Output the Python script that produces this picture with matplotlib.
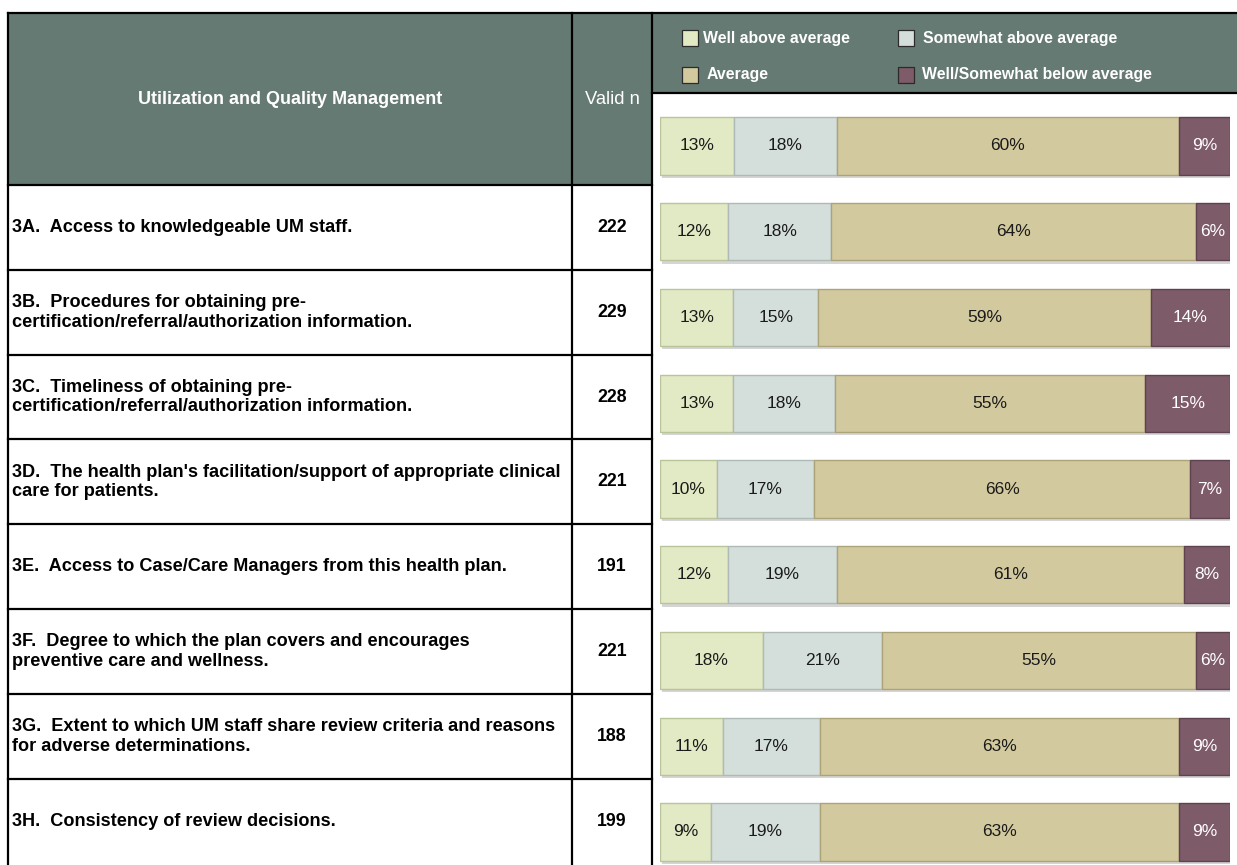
import matplotlib
matplotlib.use("Agg")
import matplotlib.pyplot as plt
from matplotlib.patches import Rectangle
import matplotlib.patheffects as pe
import numpy as np

plt.rcParams['font.family'] = ['Liberation Sans', 'DejaVu Sans']

# ---------------- data ----------------
header_title = "Utilization and Quality Management"
header_n = "Valid n"
row_labels = [
    "3A.  Access to knowledgeable UM staff.",
    "3B.  Procedures for obtaining pre-\ncertification/referral/authorization information.",
    "3C.  Timeliness of obtaining pre-\ncertification/referral/authorization information.",
    "3D.  The health plan's facilitation/support of appropriate clinical\ncare for patients.",
    "3E.  Access to Case/Care Managers from this health plan.",
    "3F.  Degree to which the plan covers and encourages\npreventive care and wellness.",
    "3G.  Extent to which UM staff share review criteria and reasons\nfor adverse determinations.",
    "3H.  Consistency of review decisions.",
]
valid_n = [222, 229, 228, 221, 191, 221, 188, 199]

series_names = ["Well above average", "Somewhat above average", "Average",
                "Well/Somewhat below average"]
well_above = [13, 12, 13, 13, 10, 12, 18, 11, 9]
somewhat_above = [18, 18, 15, 18, 17, 19, 21, 17, 19]
average = [60, 64, 59, 55, 66, 61, 55, 63, 63]
below = [9, 6, 14, 15, 7, 8, 6, 9, 9]

colors = ["#E1EAC4", "#D4DFDB", "#D2C99E", "#7D5B69"]
edge_colors = ["#B9C49A", "#AEBAB6", "#ADA378", "#5E4250"]
text_colors = ["#1a1a1a", "#1a1a1a", "#1a1a1a", "#ffffff"]
header_green = "#657A72"

W, H = 1237, 865
fig = plt.figure(figsize=(W / 100, H / 100), dpi=100)

# ---------------- table background (pixel coords) ----------------
bg = fig.add_axes([0, 0, 1, 1])
bg.set_xlim(0, W)
bg.set_ylim(H, 0)
bg.axis("off")

x_left, x_col, x_panel, x_right = 8, 572, 652, W
y_top, y_leg, y_head = 13, 93, 185
row_h = (H - y_head) / 8.0 * 0.998

bg.add_patch(Rectangle((x_left, y_top), x_panel - x_left, y_head - y_top,
                       facecolor=header_green, edgecolor="none"))
bg.add_patch(Rectangle((x_panel, y_top), x_right - x_panel, y_leg - y_top,
                       facecolor=header_green, edgecolor="none"))

lw = 1.6
bg.plot([x_left, x_right], [y_top, y_top], color="black", lw=lw)
for xv in (x_left, x_col, x_panel):
    bg.plot([xv, xv], [y_top, H], color="black", lw=lw)
bg.plot([x_panel, x_right], [y_leg, y_leg], color="black", lw=lw)
for i in range(8):
    yv = y_head + i * row_h
    bg.plot([x_left, x_panel], [yv, yv], color="black", lw=lw)

bg.text((x_left + x_col) / 2, 99, header_title, color="white",
        fontsize=13.0, fontweight="bold", ha="center", va="center")
bg.text((x_col + x_panel) / 2, 99, header_n, color="white",
        fontsize=13.2, ha="center", va="center")

for i, (lab, n) in enumerate(zip(row_labels, valid_n)):
    yc = y_head + (i + 0.5) * row_h
    bg.text(12, yc, lab, fontsize=13.1, fontweight="bold", ha="left",
            va="center", linespacing=1.2, color="black")
    bg.text((x_col + x_panel) / 2, yc, str(n), fontsize=12.8,
            fontweight="bold", ha="center", va="center", color="black")

# legend in header strip
leg_items = [(682, 38, 0, 703), (898, 38, 1, 923), (682, 75, 2, 707),
             (898, 75, 3, 922)]
for sx, sy, k, tx in leg_items:
    bg.add_patch(Rectangle((sx, sy - 8), 16, 16, facecolor=colors[k],
                           edgecolor="#2b2b2b", lw=0.9))
    bg.text(tx, sy, series_names[k], color="white", fontsize=11.4,
            fontweight="bold", ha="left", va="center")

# ---------------- stacked bars ----------------
first_c, pitch = 146, 85.75
bar_top = first_c - pitch / 2
ax = fig.add_axes([660 / W, 0, (1230 - 660) / W, (H - bar_top) / H])
ax.set_xlim(0, 100)
ax.set_ylim((H - first_c) / pitch, -0.5)
ax.axis("off")

vals = np.array([well_above, somewhat_above, average, below], dtype=float)
totals = vals.sum(axis=0)
shares = vals / totals * 100
ypos = np.arange(vals.shape[1])
left = np.zeros(vals.shape[1])
shadow = [pe.SimplePatchShadow(offset=(1.5, -2.5), alpha=0.35, shadow_rgbFace="#888888"),
          pe.Normal()]
for k in range(4):
    bars = ax.barh(ypos, shares[k], left=left, height=0.665, color=colors[k],
                   edgecolor=edge_colors[k], linewidth=1.0)
    for b in bars:
        b.set_path_effects(shadow)
    for j in range(len(ypos)):
        ax.text(left[j] + shares[k][j] / 2, ypos[j], f"{int(vals[k][j])}%",
                ha="center", va="center", fontsize=12.5, color=text_colors[k])
    left = left + shares[k]

fig.savefig("out.png", dpi=100)
